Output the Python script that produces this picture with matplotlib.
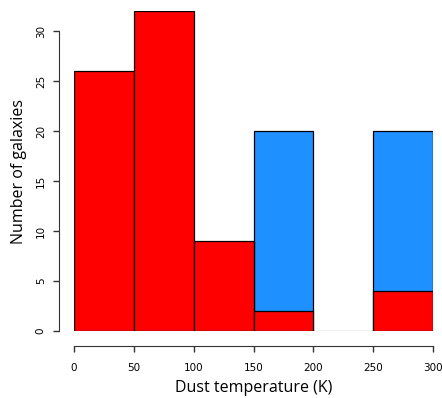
import numpy as np
from matplotlib import pyplot as plt

# histogram bins (dust temperature, K)
bin_edges = [0, 50, 100, 150, 200, 250, 300]
red_counts = [26, 32, 9, 2, 0, 4]
blue_counts = [0, 0, 0, 20, 0, 20]

x_ticks = [0, 50, 100, 150, 200, 250, 300]
y_ticks = [0, 5, 10, 15, 20, 25, 30]

fig = plt.figure(figsize=(4.42, 3.98), dpi=100)
ax = fig.add_axes([74/442, 67/398, (433-74)/442, (331-11)/398])

left = np.array(bin_edges[:-1])
width = np.diff(bin_edges)

# thin gray baseline as in R hist
ax.plot([bin_edges[0], bin_edges[-1]], [0, 0], color='#bbbbbb', lw=1, zorder=0)

blue_mask = np.array(blue_counts) > 0
ax.bar(left[blue_mask], np.array(blue_counts)[blue_mask], width=width[blue_mask],
       align='edge', color='#1E90FF', edgecolor='black', linewidth=0.9, zorder=1)
red_mask = np.array(red_counts) > 0
ax.bar(left[red_mask], np.array(red_counts)[red_mask], width=width[red_mask],
       align='edge', color='#FF0000', edgecolor='black', linewidth=0.9, zorder=2)

ax.set_xlim(0, 300)
ax.set_ylim(0, 32)

for s in ['top', 'right']:
    ax.spines[s].set_visible(False)
ax.spines['left'].set_position(('outward', 10.8))
ax.spines['bottom'].set_position(('outward', 10.8))
ax.spines['left'].set_bounds(0, 30)
ax.spines['bottom'].set_bounds(0, 300)
ax.spines['left'].set_color('#333333')
ax.spines['bottom'].set_color('#333333')

ax.set_xticks(x_ticks)
ax.set_yticks(y_ticks)
ax.tick_params(axis='both', length=4.5, width=1, color='#333333', labelsize=7.5, pad=5)
ax.tick_params(axis='x', pad=8)
ax.set_yticklabels([str(v) for v in y_ticks], rotation=90, va='center')

ax.set_xlabel('Dust temperature (K)', fontsize=11.5, family='Open Sans', labelpad=5)
ax.set_ylabel('Number of galaxies', fontsize=11.5, family='Open Sans', labelpad=6)

fig.savefig('out.png', dpi=100)
